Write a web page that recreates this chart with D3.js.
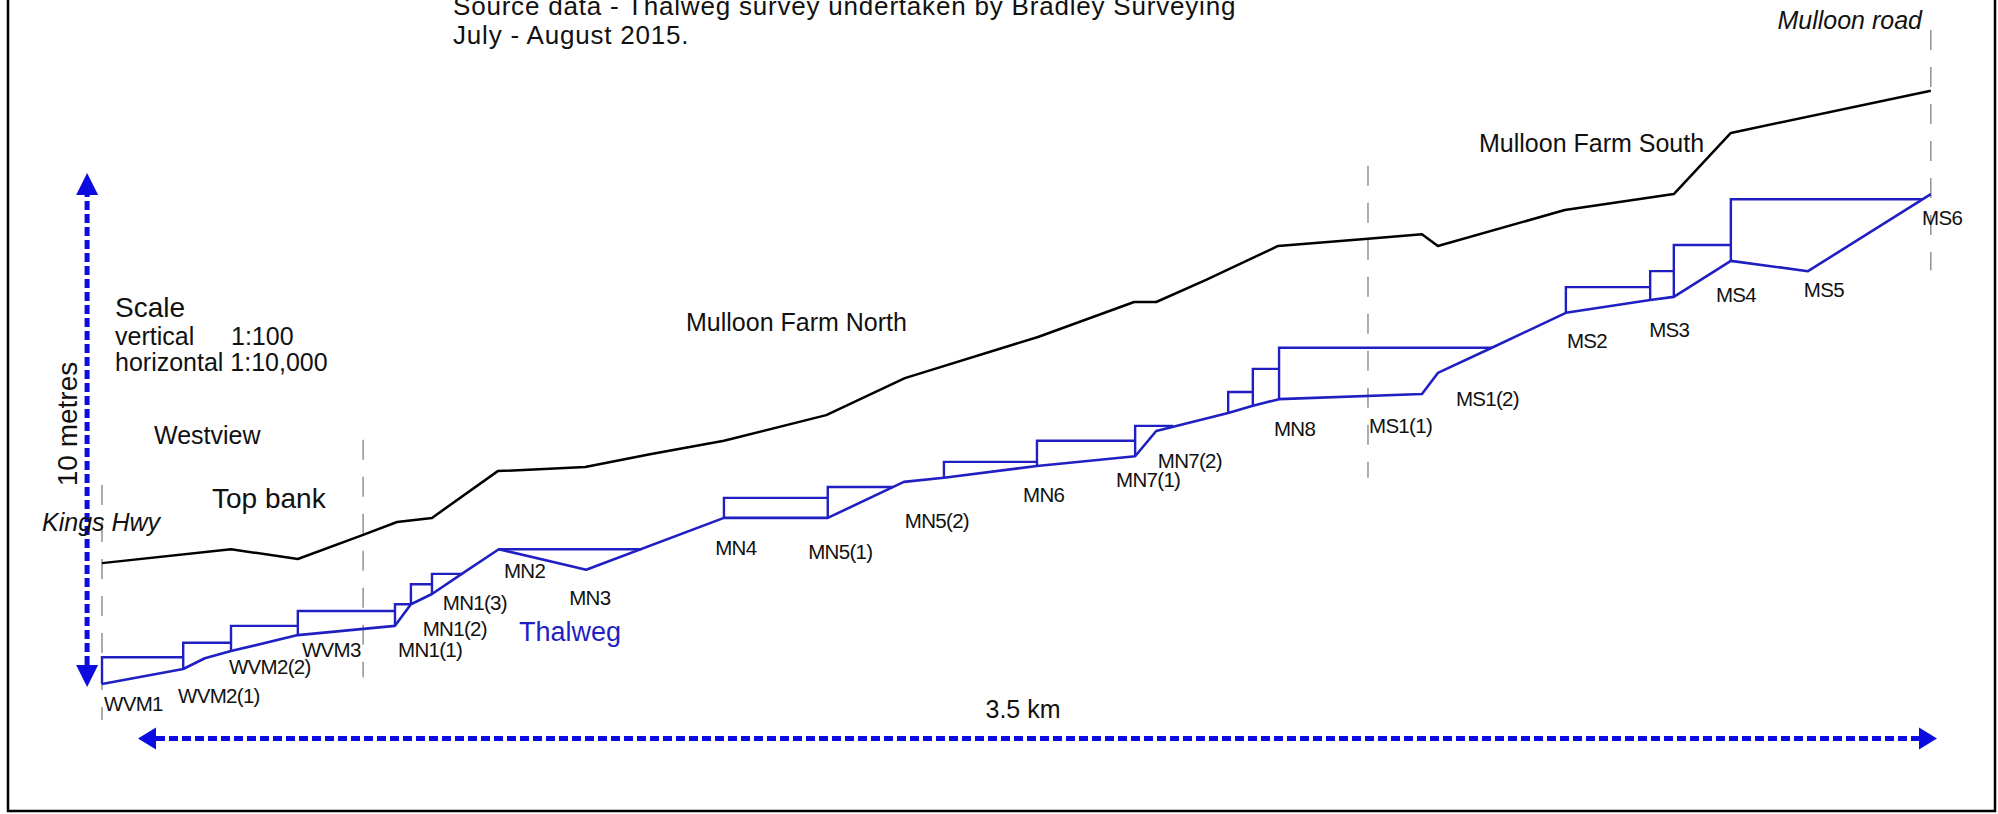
<!DOCTYPE html>
<html>
<head>
<meta charset="utf-8">
<script src="https://cdn.jsdelivr.net/npm/d3@7"></script>
<style>
body { margin: 0; background: #fff; }
svg text { font-family: "Liberation Sans", Arial, sans-serif; fill: #111; }
</style>
</head>
<body>
<div id="chart"></div>
<script>
const width = 1998;
const height = 814;

// thalweg (bed) profile: chainage from Kings Hwy (m) and relative level (m)
const bedChain = [0, 158, 200, 251, 381, 570, 601, 642, 700, 772, 942, 1210, 1412, 1560, 1638, 1819, 2010, 2051, 2191, 2239, 2290, 2568, 2599, 2704, 2848, 3012, 3058, 3169, 3319, 3558];
const bedElev = [0.06, 0.35, 0.56, 0.70, 1.01, 1.19, 1.61, 1.81, 2.20, 2.68, 2.28, 3.29, 3.29, 3.99, 4.07, 4.30, 4.49, 4.98, 5.33, 5.47, 5.60, 5.70, 6.11, 6.60, 7.28, 7.53, 7.59, 8.29, 8.09, 9.59];

// top of bank profile
const bankChain = [0, 251, 381, 508, 574, 642, 770, 940, 1066, 1210, 1409, 1562, 1821, 2008, 2051, 2148, 2288, 2463, 2568, 2599, 2846, 3058, 3169, 3558];
const bankElev = [2.41, 2.68, 2.49, 2.96, 3.21, 3.29, 4.20, 4.28, 4.53, 4.79, 5.29, 6.01, 6.81, 7.49, 7.49, 7.92, 8.58, 8.72, 8.81, 8.58, 9.28, 9.59, 10.78, 11.60];

// weirs: chainage, crest level, end of the pool behind it
const weirChain = [0, 158, 251, 381, 570, 601, 642, 772, 1210, 1412, 1638, 1819, 2010, 2191, 2239, 2290, 2848, 3012, 3058, 3169];
const weirCrest = [0.58, 0.86, 1.19, 1.48, 1.61, 2.00, 2.20, 2.68, 3.68, 3.89, 4.38, 4.79, 5.08, 5.74, 6.19, 6.60, 7.78, 8.09, 8.60, 9.49];
const poolEnd = [158, 251, 381, 570, 601, 642, 700, 1049, 1412, 1539, 1819, 2010, 2084, 2239, 2290, 2704, 3012, 3058, 3169, 3541];

// station names and where their labels sit (chainage, level)
const stationNames = ['WVM1', 'WVM2(1)', 'WVM2(2)', 'WVM3', 'MN1(1)', 'MN1(2)', 'MN1(3)', 'MN2', 'MN3', 'MN4', 'MN5(1)', 'MN5(2)', 'MN6', 'MN7(1)', 'MN7(2)', 'MN8', 'MS1(1)', 'MS1(2)', 'MS2', 'MS3', 'MS4', 'MS5', 'MS6'];
const stationChain = [4, 148, 247, 389, 576, 624, 663, 782, 909, 1193, 1374, 1562, 1792, 1973, 2054, 2280, 2465, 2634, 2850, 3010, 3140, 3311, 3541];
const stationElev = [-0.47, -0.31, 0.25, 0.58, 0.58, 0.99, 1.50, 2.12, 1.60, 2.57, 2.49, 3.09, 3.60, 3.89, 4.26, 4.88, 4.94, 5.47, 6.60, 6.81, 7.49, 7.59, 8.99];

// property boundaries (dashed grey)
const boundaryChain = [0, 508, 2463, 3558];
const boundaryTop = [3.93, 4.81, 10.14, 12.78];
const boundaryBottom = [-0.64, 0.19, 4.07, 8.11];

// scale bars
const barLength = 3500;      // m horizontal
const barStart = 70;
const barLevel = -1.0;
const vBarHeight = 10;       // m vertical
const vBarChain = -29;

const blue = '#1f1fc2';
const arrowBlue = '#0c0ce0';

const x = d3.scaleLinear().domain([0, 3500]).range([102, 1901]);
const y = d3.scaleLinear().domain([0, 10]).range([687, 173]);
const bedAt = d3.scaleLinear().domain(bedChain).range(bedElev);

const svg = d3.select('#chart').append('svg')
    .attr('width', width)
    .attr('height', height);

// frame
svg.append('rect')
    .attr('x', 8).attr('y', -10)
    .attr('width', 1987).attr('height', 821)
    .attr('fill', 'none').attr('stroke', '#000').attr('stroke-width', 2.5);

// boundaries
svg.selectAll('.boundary')
    .data(boundaryChain)
    .enter().append('line')
    .attr('class', 'boundary')
    .attr('x1', d => x(d)).attr('x2', d => x(d))
    .attr('y1', (d, i) => y(boundaryTop[i]))
    .attr('y2', (d, i) => y(boundaryBottom[i]))
    .attr('stroke', '#8a8a8a')
    .attr('stroke-width', 1.4)
    .attr('stroke-dasharray', '20,17');

const line = d3.line().x(d => x(d[0])).y(d => y(d[1]));

// top bank
svg.append('path')
    .attr('d', line(d3.zip(bankChain, bankElev)))
    .attr('fill', 'none').attr('stroke', '#000').attr('stroke-width', 2.5)
    .attr('stroke-linejoin', 'round');

// weirs and pools
svg.selectAll('.weir')
    .data(weirChain)
    .enter().append('path')
    .attr('class', 'weir')
    .attr('d', (d, i) => `M${x(d)},${y(bedAt(d))}V${y(weirCrest[i])}H${x(poolEnd[i])}`)
    .attr('fill', 'none').attr('stroke', blue).attr('stroke-width', 2.4);

// thalweg
svg.append('path')
    .attr('d', line(d3.zip(bedChain, bedElev)))
    .attr('fill', 'none').attr('stroke', blue).attr('stroke-width', 2.6)
    .attr('stroke-linejoin', 'round');

// station labels
svg.selectAll('.station')
    .data(stationNames)
    .enter().append('text')
    .attr('class', 'station')
    .attr('x', (d, i) => x(stationChain[i]))
    .attr('y', (d, i) => y(stationElev[i]))
    .attr('font-size', 20.5)
    .attr('letter-spacing', -0.7)
    .text(d => d);

// scale bar arrows
function arrow(x1, y1, x2, y2, head, half) {
    let len = Math.hypot(x2 - x1, y2 - y1);
    let ux = (x2 - x1) / len, uy = (y2 - y1) / len;
    svg.append('line')
        .attr('x1', x1 + ux * head).attr('y1', y1 + uy * head)
        .attr('x2', x2 - ux * head).attr('y2', y2 - uy * head)
        .attr('stroke', arrowBlue).attr('stroke-width', 5)
        .attr('stroke-dasharray', '9,4');
    [[x1, y1, ux, uy], [x2, y2, -ux, -uy]].forEach(([px, py, dx, dy]) => {
        let bx = px + dx * head, by = py + dy * head;
        svg.append('path')
            .attr('d', `M${px},${py}L${bx - dy * half},${by + dx * half}L${bx + dy * half},${by - dx * half}Z`)
            .attr('fill', arrowBlue);
    });
}
arrow(x(vBarChain), y(0), x(vBarChain), y(vBarHeight), 22, 11);
arrow(x(barStart), y(barLevel), x(barStart + barLength), y(barLevel), 18, 11);

// annotations
function label(txt, px, py, size, opts = {}) {
    let t = svg.append('text')
        .attr('x', px).attr('y', py)
        .attr('font-size', size)
        .text(txt);
    if (opts.italic) t.attr('font-style', 'italic');
    if (opts.anchor) t.attr('text-anchor', opts.anchor);
    if (opts.fill) t.style('fill', opts.fill);
    if (opts.spacing) t.attr('letter-spacing', opts.spacing);
    return t;
}

label('Source data - Thalweg survey undertaken by Bradley Surveying', 453, 15, 26, { spacing: 0.8 });
label('July - August 2015.', 453, 44, 26, { spacing: 0.8 });
label('Mulloon road', 1922, 29, 25, { italic: true, anchor: 'end' });
label('Mulloon Farm South', 1479, 152, 25);
label('Mulloon Farm North', 686, 331, 25);
label('Scale', 115, 317, 28);
label('vertical', 115, 345, 25);
label('1:100', 231, 345, 25);
label('horizontal 1:10,000', 115, 371, 25);
label('Westview', 154, 444, 25);
label('Top bank', 212, 508, 28);
label('Kings Hwy', 42, 531, 25, { italic: true });
label('Thalweg', 519, 641, 27, { fill: blue });
label('3.5 km', 1023, 718, 25, { anchor: 'middle' });

svg.append('text')
    .attr('transform', 'translate(77,424) rotate(-90)')
    .attr('text-anchor', 'middle')
    .attr('font-size', 28)
    .text('10 metres');
</script>
</body>
</html>
